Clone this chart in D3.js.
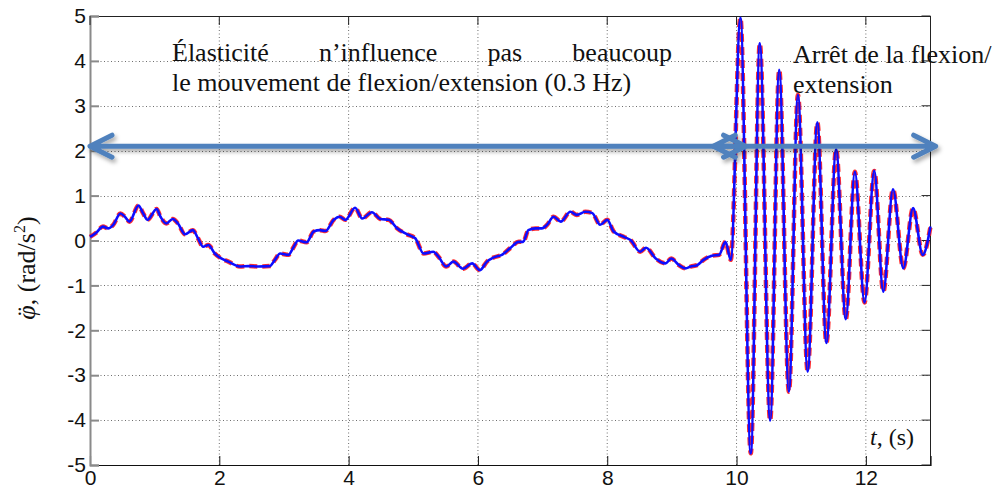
<!DOCTYPE html>
<html>
<head>
<meta charset="utf-8">
<script src="https://cdn.jsdelivr.net/npm/d3@7"></script>
<style>
  html, body { margin: 0; padding: 0; background: #fff; }
  svg { display: block; }
</style>
</head>
<body>
<svg id="chart" width="1003" height="493"></svg>
<script>
// ---- data ----
const time = [
  0.00, 0.10, 0.20, 0.28, 0.36, 0.47, 0.54, 0.61, 0.75, 0.82, 0.89, 1.03, 1.09, 1.18, 1.28, 1.36,
  1.47, 1.59, 1.67, 1.75, 1.83, 1.93, 2.03, 2.14, 2.32, 2.45, 2.60, 2.78, 2.86, 2.94, 3.07, 3.14,
  3.22, 3.35, 3.46, 3.56, 3.64, 3.77, 3.86, 3.95, 4.10, 4.21, 4.36, 4.49, 4.62, 4.75, 4.90, 5.03,
  5.16, 5.31, 5.39, 5.51, 5.62, 5.77, 5.91, 6.03, 6.14, 6.24, 6.37, 6.50, 6.63, 6.70, 6.78, 6.89,
  6.99, 7.07, 7.17, 7.28, 7.43, 7.53, 7.66, 7.77, 7.89, 8.00, 8.10, 8.26, 8.36, 8.51, 8.60, 8.75,
  8.90, 8.99, 9.11, 9.21, 9.29, 9.39, 9.49, 9.62, 9.73, 9.83, 9.91, 10.06, 10.22, 10.36, 10.52, 10.66,
  10.81, 10.95, 11.10, 11.25, 11.39, 11.54, 11.69, 11.83, 11.98, 12.13, 12.27, 12.42, 12.58, 12.73, 12.88, 13.00
];
const simulated = [
  0.08, 0.18, 0.31, 0.27, 0.35, 0.60, 0.53, 0.42, 0.78, 0.61, 0.46, 0.70, 0.53, 0.38, 0.48, 0.38,
  0.14, 0.23, 0.05, -0.14, -0.10, -0.29, -0.40, -0.47, -0.58, -0.57, -0.58, -0.57, -0.43, -0.29, -0.32, -0.17,
  0.00, -0.04, 0.20, 0.23, 0.21, 0.46, 0.53, 0.46, 0.73, 0.49, 0.63, 0.48, 0.46, 0.27, 0.14, 0.05,
  -0.29, -0.25, -0.36, -0.58, -0.47, -0.63, -0.51, -0.66, -0.47, -0.38, -0.32, -0.17, -0.03, -0.03, 0.23, 0.27,
  0.27, 0.35, 0.53, 0.42, 0.64, 0.57, 0.64, 0.61, 0.35, 0.46, 0.20, 0.08, 0.01, -0.25, -0.16, -0.40,
  -0.51, -0.40, -0.55, -0.62, -0.58, -0.55, -0.43, -0.34, -0.32, -0.03, -0.43, 4.96, -4.74, 4.39, -4.01, 3.80,
  -3.37, 3.24, -2.92, 2.63, -2.28, 2.03, -1.75, 1.53, -1.38, 1.55, -1.14, 1.14, -0.62, 0.72, -0.32, 0.31
];
const measured = [
  0.08, 0.18, 0.31, 0.27, 0.35, 0.60, 0.53, 0.42, 0.78, 0.61, 0.46, 0.70, 0.53, 0.38, 0.48, 0.38,
  0.14, 0.23, 0.05, -0.14, -0.10, -0.29, -0.40, -0.47, -0.58, -0.57, -0.58, -0.57, -0.43, -0.29, -0.32, -0.17,
  0.00, -0.04, 0.20, 0.23, 0.21, 0.46, 0.53, 0.46, 0.73, 0.49, 0.63, 0.48, 0.46, 0.27, 0.14, 0.05,
  -0.29, -0.25, -0.36, -0.58, -0.47, -0.63, -0.51, -0.66, -0.47, -0.38, -0.32, -0.17, -0.03, -0.03, 0.23, 0.27,
  0.27, 0.35, 0.53, 0.42, 0.64, 0.57, 0.64, 0.61, 0.35, 0.46, 0.20, 0.08, 0.01, -0.25, -0.16, -0.40,
  -0.51, -0.40, -0.55, -0.62, -0.58, -0.55, -0.43, -0.34, -0.32, -0.03, -0.43, 4.96, -4.74, 4.39, -4.01, 3.80,
  -3.37, 3.24, -2.92, 2.63, -2.28, 2.03, -1.75, 1.53, -1.38, 1.55, -1.14, 1.14, -0.62, 0.72, -0.32, 0.31
];
const xTicks = [0, 2, 4, 6, 8, 10, 12];
const yTicks = [-5, -4, -3, -2, -1, 0, 1, 2, 3, 4, 5];
const xDomain = [0, 13];
const yDomain = [-5, 5];
const noteLeft1 = ["Élasticité", "n’influence", "pas", "beaucoup"];
const noteLeft2 = "le mouvement de flexion/extension (0.3 Hz)";
const noteRight = ["Arrêt de la flexion/", "extension"];
const arrowLevel = 2.1;
const arrows = [{ from: 0.0, to: 10.14 }, { from: 9.64, to: 13.08 }];

// ---- layout ----
const svg = d3.select("#chart");
const L = 90, R = 930.5, T = 16, B = 465;
const x = d3.scaleLinear().domain(xDomain).range([L, R]);
const y = d3.scaleLinear().domain(yDomain).range([B, T]);

const defs = svg.append("defs");
const f = defs.append("filter").attr("id", "shadow").attr("x", "-10%").attr("y", "-50%").attr("width", "120%").attr("height", "200%");
f.append("feDropShadow").attr("dx", 2).attr("dy", 3).attr("stdDeviation", 2).attr("flood-color", "#000").attr("flood-opacity", 0.35);

// grid
const grid = svg.append("g");
grid.selectAll("line.gx").data(xTicks.filter(d => d > xDomain[0])).join("line")
  .attr("x1", d => x(d)).attr("x2", d => x(d)).attr("y1", T).attr("y2", B)
  .attr("stroke", "#6e6e6e").attr("stroke-width", 1).attr("stroke-dasharray", "1,2.5");
grid.selectAll("line.gy").data(yTicks.filter(d => d > yDomain[0] && d < yDomain[1])).join("line")
  .attr("x1", L).attr("x2", R).attr("y1", d => Math.round(y(d)) + 0.5).attr("y2", d => Math.round(y(d)) + 0.5)
  .attr("stroke", "#6e6e6e").attr("stroke-width", 1).attr("stroke-dasharray", "1,2.5");

// frame
svg.append("line").attr("x1", L).attr("x2", R).attr("y1", T + 0.5).attr("y2", T + 0.5).attr("stroke", "#222");
svg.append("line").attr("x1", R).attr("x2", R).attr("y1", T).attr("y2", B).attr("stroke", "#222");

// axes via d3
const xAxis = d3.axisBottom(x).tickValues(xTicks).tickSize(-9).tickPadding(5).tickFormat(d3.format("d"));
const gx = svg.append("g").attr("transform", `translate(0,${B})`).call(xAxis);
gx.select(".domain").attr("stroke", "#111").attr("stroke-width", 1.2);
gx.selectAll(".tick line").attr("stroke", "#111");
gx.selectAll("text").attr("font-family", "Liberation Sans, Arial, sans-serif").attr("font-size", 21).attr("fill", "#111");

const yAxis = d3.axisLeft(y).tickValues(yTicks).tickSize(-9).tickPadding(4).tickFormat(d => d < 0 ? "-" + Math.abs(d) : String(d));
const gy = svg.append("g").attr("transform", `translate(${L},0)`).call(yAxis);
gy.select(".domain").attr("stroke", "#8a8a8a").attr("stroke-width", 2);
gy.selectAll(".tick line").attr("stroke", "#8a8a8a").attr("stroke-width", 2);
gy.selectAll("text").attr("font-family", "Liberation Sans, Arial, sans-serif").attr("font-size", 21).attr("fill", "#111");

// mirrored ticks (right and top)
svg.append("g").selectAll("line").data(yTicks).join("line")
  .attr("x1", R - 9).attr("x2", R).attr("y1", d => y(d)).attr("y2", d => y(d)).attr("stroke", "#222");
svg.append("g").selectAll("line").data(xTicks).join("line")
  .attr("x1", d => x(d)).attr("x2", d => x(d)).attr("y1", T).attr("y2", T + 9).attr("stroke", "#222");

// series
const pts = (vals) => time.map((t, i) => [t, vals[i]]);
const line = d3.line().x(d => x(d[0])).y(d => y(d[1])).curve(d3.curveMonotoneX);
const plot = svg.append("g");
plot.append("path").attr("d", line(pts(simulated))).attr("fill", "none")
  .attr("stroke", "#ff1a1a").attr("stroke-width", 4.5).attr("stroke-dasharray", "8,5").attr("stroke-opacity", 0.9);
plot.append("path").attr("d", line(pts(measured))).attr("fill", "none")
  .attr("stroke", "#0d0dff").attr("stroke-width", 2.6).attr("stroke-linejoin", "round");

// arrows
const ag = svg.append("g").attr("filter", "url(#shadow)");
const ay = y(arrowLevel);
arrows.forEach(a => {
  const x0 = x(a.from), x1 = x(a.to);
  const p = d3.path();
  p.moveTo(x0 + 2, ay); p.lineTo(x1 - 2, ay);
  p.moveTo(x0 + 22, ay - 11); p.lineTo(x0, ay); p.lineTo(x0 + 22, ay + 11);
  p.moveTo(x1 - 22, ay - 11); p.lineTo(x1, ay); p.lineTo(x1 - 22, ay + 11);
  ag.append("path").attr("d", p.toString()).attr("fill", "none")
    .attr("stroke", "#4f81bd").attr("stroke-width", 5).attr("stroke-linecap", "round").attr("stroke-linejoin", "round");
});

// annotations
const serif = "Liberation Serif, Times New Roman, serif";
const NS = 26;
const t1 = svg.append("text").attr("x", 172).attr("y", 61).attr("font-family", serif).attr("font-size", NS).attr("fill", "#111")
  .text(noteLeft1.join(" "));
const nat = t1.node().getComputedTextLength();
t1.attr("word-spacing", Math.max(0, (500 - nat) / (noteLeft1.length - 1)));
svg.append("text").attr("x", 172).attr("y", 91).attr("font-family", serif).attr("font-size", NS).attr("fill", "#111")
  .text(noteLeft2);
noteRight.forEach((s, i) => {
  svg.append("text").attr("x", 793).attr("y", 63 + i * 30).attr("font-family", serif).attr("font-size", NS).attr("fill", "#111").text(s);
});

// axis titles
const xl = svg.append("text").attr("x", 914).attr("y", 445).attr("text-anchor", "end")
  .attr("font-family", serif).attr("font-size", 24).attr("fill", "#111");
xl.append("tspan").attr("font-style", "italic").text("t");
xl.append("tspan").text(", (s)");

// y title: φ with a diaeresis placed over it
const YS = 26;
const probe = svg.append("text").attr("font-family", serif).attr("font-size", YS).attr("font-style", "italic");
const wPhi = probe.text("φ").node().getComputedTextLength();
const wDia = probe.attr("font-style", "normal").text("¨").node().getComputedTextLength();
probe.remove();
const yl = svg.append("text").attr("transform", "translate(35,268) rotate(-90)").attr("text-anchor", "middle")
  .attr("font-family", serif).attr("font-size", YS).attr("fill", "#111");
yl.append("tspan").attr("font-style", "italic").text("φ");
yl.append("tspan").attr("dx", -(wPhi + wDia) / 2 + 1).attr("dy", 0).text("¨");
yl.append("tspan").attr("dx", (wPhi - wDia) / 2 - 1).text(", (rad/s");
yl.append("tspan").attr("font-size", 16).attr("dy", -10).text("2");
yl.append("tspan").attr("dy", 10).text(")");
</script>
</body>
</html>
